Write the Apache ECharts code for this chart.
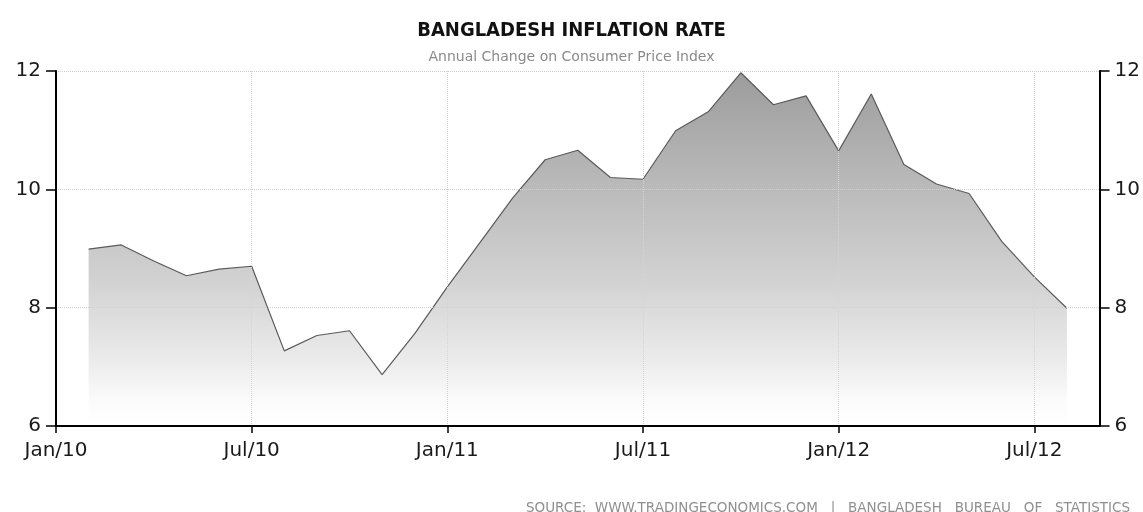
<!DOCTYPE html>
<html>
<head>
<meta charset="utf-8">
<script src="https://cdn.jsdelivr.net/npm/echarts@6/dist/echarts.min.js"></script>
<style>
html,body{margin:0;padding:0;background:#fff;}
#chart{width:1143px;height:512px;}
</style>
</head>
<body>
<div id="chart"></div>
<script>
// Months from Jan/10 (index 0); data runs Feb/10 .. Aug/12
var monthLabels = ["Feb/10","Mar/10","Apr/10","May/10","Jun/10","Jul/10","Aug/10","Sep/10","Oct/10","Nov/10","Dec/10",
  "Jan/11","Feb/11","Mar/11","Apr/11","May/11","Jun/11","Jul/11","Aug/11","Sep/11","Oct/11","Nov/11","Dec/11",
  "Jan/12","Feb/12","Mar/12","Apr/12","May/12","Jun/12","Jul/12","Aug/12"];
var inflation = [8.99, 9.06, 8.79, 8.54, 8.65, 8.70, 7.27, 7.53, 7.61, 6.87, 7.56,
  8.35, 9.10, 9.85, 10.50, 10.66, 10.20, 10.17, 10.99, 11.31, 11.97, 11.43, 11.58,
  10.65, 11.61, 10.42, 10.09, 9.93, 9.12, 8.52, 7.99];
var tickLabels = ["Jan/10","Jul/10","Jan/11","Jul/11","Jan/12","Jul/12"];
var firstMonthIndex = 1; // Feb/10 is one month after Jan/10
var monthsShown = 32;    // axis runs Jan/10 .. Sep/12

var seriesData = inflation.map(function (v, i) { return [firstMonthIndex + i, v]; });
var tickValues = tickLabels.map(function (_, i) { return i * 6; });

var chart = echarts.init(document.getElementById('chart'), null, {renderer: 'canvas'});
var axisFont = {fontFamily: 'DejaVu Sans', fontSize: 20, color: '#1a1a1a'};
var yAxisCommon = {
  type: 'value', min: 6, max: 12, interval: 2, z: 5,
  axisLine: {show: true, lineStyle: {color: '#000', width: 2}},
  axisTick: {show: true, length: 10, lineStyle: {color: '#000', width: 1.5}},
  axisLabel: Object.assign({margin: 15}, axisFont),
  splitLine: {show: true, lineStyle: {color: '#d0d0d0', type: [1, 1], width: 1}}
};
chart.setOption({
  animation: false,
  backgroundColor: '#fff',
  title: [
    {text: 'BANGLADESH INFLATION RATE', left: 'center', top: 16,
     textStyle: {fontFamily: 'Liberation Sans Narrow, DejaVu Sans Condensed, sans-serif', fontWeight: 'bold', fontSize: 20, color: '#111'}},
    {text: 'Annual Change on Consumer Price Index', left: 'center', top: 45,
     textStyle: {fontFamily: 'DejaVu Sans', fontWeight: 'normal', fontSize: 14, color: '#8a8a8a'}},
    {text: 'SOURCE:  WWW.TRADINGECONOMICS.COM   |   BANGLADESH   BUREAU   OF   STATISTICS', right: 8, top: 496,
     textStyle: {fontFamily: 'DejaVu Sans', fontWeight: 'normal', fontSize: 13.5, color: '#8f8f8f'}}
  ],
  grid: {left: 56, right: 43, top: 71, bottom: 86, containLabel: false},
  xAxis: {
    type: 'value', min: 0, max: monthsShown, interval: 6, z: 5,
    axisLine: {show: true, onZero: false, lineStyle: {color: '#000', width: 2}},
    axisTick: {show: true, length: 7, customValues: tickValues, lineStyle: {color: '#000', width: 1.5}},
    axisLabel: Object.assign({margin: 15, customValues: tickValues,
      formatter: function (v) { var k = Math.round(v / 6); return (v % 6 === 0 && tickLabels[k]) ? tickLabels[k] : ''; }}, axisFont),
    splitLine: {show: true, lineStyle: {color: '#d4d4d4', type: [1, 1], width: 1}}
  },
  yAxis: [
    Object.assign({position: 'left'}, yAxisCommon),
    Object.assign({position: 'right'}, yAxisCommon, {splitLine: {show: false}})
  ],
  series: [{
    type: 'line',
    data: seriesData,
    showSymbol: false,
    symbol: 'none',
    z: 2,
    lineStyle: {color: '#5a5a5a', width: 1.2},
    areaStyle: {
      origin: 'start',
      opacity: 1,
      color: new echarts.graphic.LinearGradient(0, 0, 0, 1, [
        {offset: 0, color: '#9c9c9c'},
        {offset: 0.3, color: '#b8b8b8'},
        {offset: 0.6, color: '#d3d3d3'},
        {offset: 0.82, color: '#ececec'},
        {offset: 0.93, color: '#fbfbfb'},
        {offset: 1, color: '#ffffff'}
      ])
    }
  }]
});
</script>
</body>
</html>
